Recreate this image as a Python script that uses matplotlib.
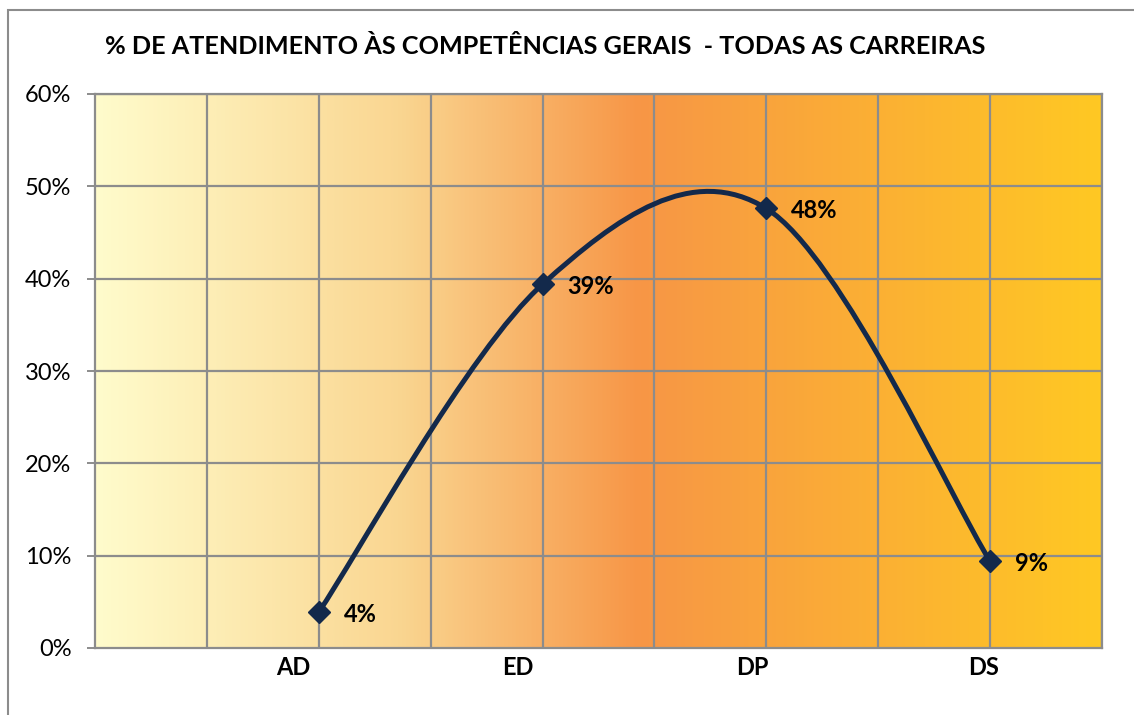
import numpy as np
import matplotlib.pyplot as plt
from matplotlib.colors import LinearSegmentedColormap
from matplotlib.path import Path
from matplotlib.patches import PathPatch, Rectangle
from matplotlib.ticker import FuncFormatter
import matplotlib.transforms as mtransforms

plt.rcParams['font.family'] = ['Lato', 'DejaVu Sans']

# data
categories = ['AD', 'ED', 'DP', 'DS']
xpos = [2, 4, 6, 8]
values = [3.9, 39.4, 47.6, 9.4]
value_labels = ['4%', '39%', '48%', '9%']
title = '% DE ATENDIMENTO ÀS COMPETÊNCIAS GERAIS  - TODAS AS CARREIRAS'

line_color = '#13294B'
grid_color = '#8C8C8C'

fig = plt.figure(figsize=(11.34, 7.15), dpi=100)
ax = fig.add_axes([95 / 1134, 67 / 715, 1007 / 1134, 554 / 715])

# gradient background
cmap = LinearSegmentedColormap.from_list('bg', [
    (0.0, (1.0, 0.988, 0.80)),
    (0.30, (0.98, 0.84, 0.57)),
    (0.54, (0.969, 0.588, 0.275)),
    (1.0, (1.0, 0.785, 0.137)),
])
grad = np.linspace(0, 1, 512).reshape(1, -1)
ax.imshow(grad, cmap=cmap, aspect='auto', extent=[0, 9, 0, 60], zorder=0)

ax.set_xlim(0, 9)
ax.set_ylim(0, 60)

# grid
for gx in range(1, 10):
    ax.axvline(gx, color=grid_color, lw=1.6, zorder=1)
for gy in range(10, 70, 10):
    ax.axhline(gy, color=grid_color, lw=1.6, zorder=1)

for s in ax.spines.values():
    s.set_color(grid_color)
    s.set_linewidth(1.6)

ax.set_yticks(range(0, 70, 10))
ax.yaxis.set_major_formatter(FuncFormatter(lambda v, p: f'{int(v)}%'))
ax.tick_params(axis='y', length=6, width=1.4, color=grid_color, labelsize=17, pad=11)
ax.set_xticks([])

# smoothed line (Catmull-Rom as bezier)
pts = np.column_stack([xpos, values]).astype(float)
ext = np.vstack([pts[0], pts, pts[-1]])
verts = [tuple(pts[0])]
codes = [Path.MOVETO]
for i in range(len(pts) - 1):
    p0, p1, p2, p3 = ext[i], ext[i + 1], ext[i + 2], ext[i + 3]
    c1 = p1 + (p2 - p0) / 6
    c2 = p2 - (p3 - p1) / 6
    verts += [tuple(c1), tuple(c2), tuple(p2)]
    codes += [Path.CURVE4] * 3
ax.add_patch(PathPatch(Path(verts, codes), fill=False, ec=line_color, lw=3.6,
                       capstyle='round', zorder=3))
ax.plot(xpos, values, ls='none', marker='D', ms=11.5, color=line_color, zorder=4)

for x, v, lab in zip(xpos, values, value_labels):
    ax.annotate(lab, (x, v), xytext=(18, -1.5), textcoords='offset points',
                ha='left', va='center', fontsize=17, fontweight='bold', color='black')

# category labels (slightly left of the gridline, as in the original)
label_shift = [-26, -25, -14, -7]
trans = mtransforms.blended_transform_factory(ax.transData, ax.transAxes)
for x, c, sh in zip(xpos, categories, label_shift):
    t = trans + mtransforms.ScaledTranslation(sh / 100, 0, fig.dpi_scale_trans)
    ax.text(x, -0.036, c, transform=t, ha='center', va='center',
            fontsize=17, fontweight='bold')

fig.text(545 / 1134, 1 - 46 / 715, title, ha='center', va='center',
         fontsize=18.2, fontweight='bold')

# outer chart border
fig.patches.append(Rectangle((8 / 1134, -0.1), 2, 1.1 - 10 / 715, transform=fig.transFigure,
                             fill=False, ec='#8C8C8C', lw=1.5))

fig.savefig('out.png', dpi=100)
